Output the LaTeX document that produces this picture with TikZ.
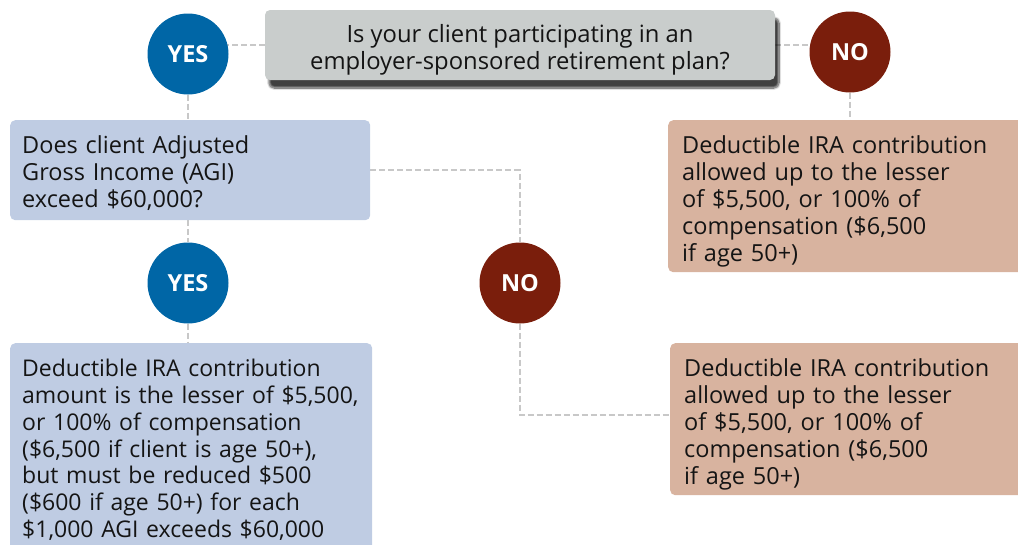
\documentclass[tikz,border=0pt]{standalone}
\usepackage{fontspec}
\setmainfont{Open Sans}
\usetikzlibrary{shadows.blur}
\definecolor{graybox}{HTML}{C9CDCC}
\definecolor{bluebox}{HTML}{BFCCE3}
\definecolor{tanbox}{HTML}{D8B39F}
\definecolor{yesblue}{HTML}{0066A6}
\definecolor{nored}{HTML}{7A1E0C}
\definecolor{dashgray}{HTML}{C8C8C8}
\definecolor{ink}{HTML}{141414}
\newcommand{\upstrut}[1]{\rule{0pt}{#1pt}}
\pgfdeclarelayer{bg}
\pgfsetlayers{bg,main}
\begin{document}
\begin{tikzpicture}[x=1pt,y=-1pt,
  conn/.style={draw=dashgray, line width=2.5pt, dash pattern=on 6pt off 3pt},
  badge/.style={circle, minimum size=81pt, inner sep=0pt, text=white,
    font=\fontsize{23.5}{26}\selectfont\bfseries},
  yesc/.style={badge, fill=yesblue},
  noc/.style={badge, fill=nored},
  boxtext/.style={rounded corners=5pt, align=left, inner ysep=0pt, text=ink,
    font=\fontsize{23.5}{27}\selectfont},
]
\useasboundingbox (0,0) rectangle (1018,544);
\clip (0,0) rectangle (1018,544);

\node[fill=graybox, rounded corners=5pt, minimum width=510pt, minimum height=70pt,
  align=center, text=ink, font=\fontsize{23.8}{27}\selectfont, inner ysep=0pt,
  blur shadow={shadow xshift=4pt, shadow yshift=-8pt, shadow blur steps=10, shadow opacity=75}]
  (q1) at (520,45) {\upstrut{28}Is your client participating in an\\employer-sponsored retirement plan?};

\node[yesc] (yes1) at (188,54) {YES};
\node[noc] (no1) at (850,52) {NO};

\node[boxtext, fill=bluebox, anchor=north west, minimum width=360pt, minimum height=100pt,
  text width=336pt, inner xsep=12pt] (q2) at (10,120)
  {\upstrut{24}Does client Adjusted\\Gross Income (AGI)\\exceed \$60,000?};

\node[boxtext, fill=tanbox, anchor=north west, minimum width=362pt, minimum height=152pt,
  text width=334pt, inner xsep=14pt] (r1) at (668,120)
  {\upstrut{28}Deductible IRA contribution\\allowed up to the lesser\\of \$5,500, or 100\% of\\compensation (\$6,500\\if age 50+)};

\node[yesc] (yes2) at (188,283) {YES};
\node[noc] (no2) at (520,283) {NO};

\node[boxtext, fill=bluebox, anchor=north west, minimum width=362pt,
  text width=338pt, inner xsep=12pt, inner ysep=16pt,
  font=\fontsize{23}{26.8}\selectfont] (r3) at (10,343)
  {Deductible IRA contribution\\amount is the lesser of \$5,500,\\or 100\% of compensation\\(\$6,500 if client is age 50+),\\but must be reduced \$500\\(\$600 if age 50+) for each\\\$1,000 AGI exceeds \$60,000};

\node[boxtext, fill=tanbox, anchor=north west, minimum width=362pt, minimum height=152pt,
  text width=334pt, inner xsep=12pt] (r2) at (670,343)
  {\upstrut{29}Deductible IRA contribution\\allowed up to the lesser\\of \$5,500, or 100\% of\\compensation (\$6,500\\if age 50+)};

\begin{pgfonlayer}{bg}
  \draw[conn] (q1.west) -- (q1.west -| yes1.center);
  \draw[conn] (q1.east) -- (q1.east -| no1.center);
  \draw[conn] (yes1.south) -- (yes1.south |- q2.north);
  \draw[conn] (no1.south) -- (no1.south |- r1.north);
  \draw[conn] (q2.east) -- (q2.east -| no2.north) -- (no2.north);
  \draw[conn] (yes2.north |- q2.south) -- (yes2.north);
  \draw[conn] (yes2.south) -- (yes2.south |- r3.north);
  \draw[conn] (no2.south) -- ([yshift=4pt]no2.south |- r2.west) -- ([yshift=4pt]r2.west);
\end{pgfonlayer}
\end{tikzpicture}
\end{document}
